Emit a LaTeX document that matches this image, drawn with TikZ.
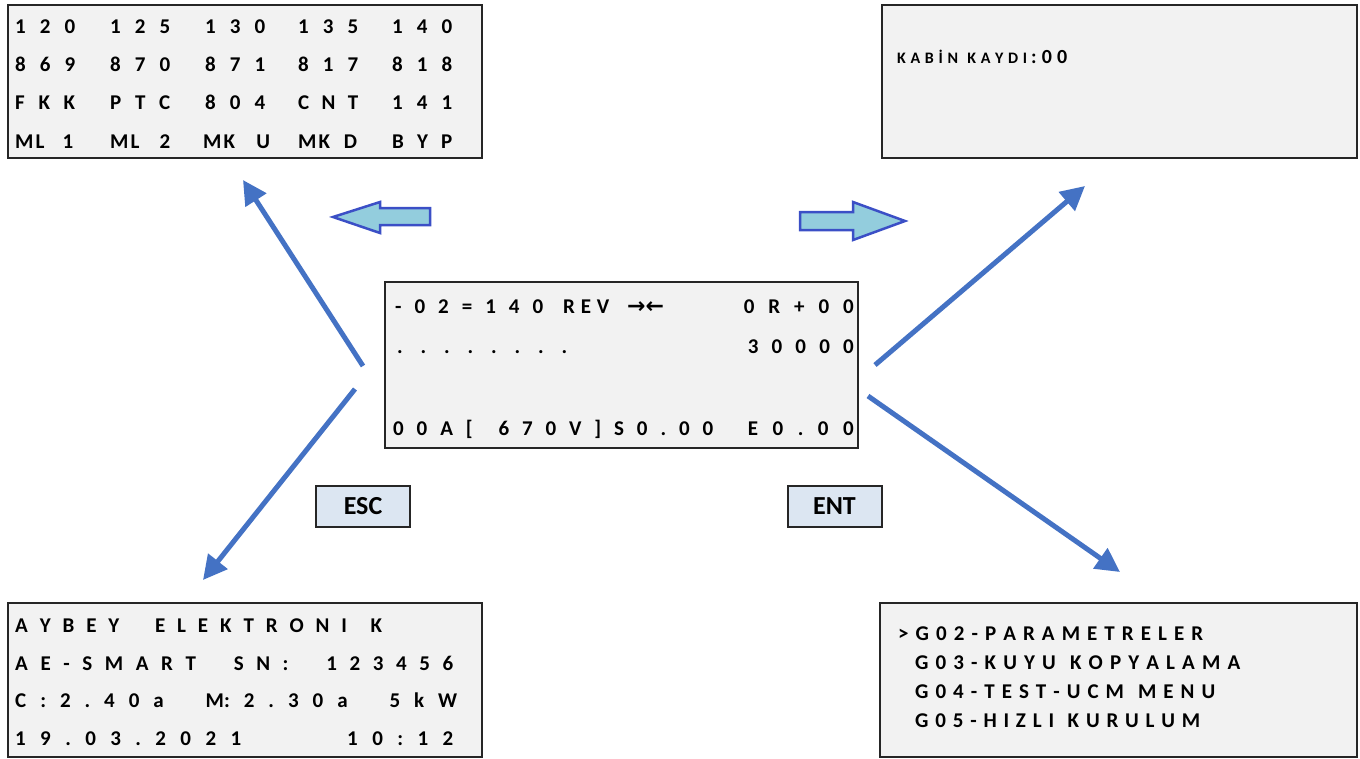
\documentclass[tikz,border=0pt]{standalone}
\usepackage{fontspec}
\setmainfont{Carlito}
\newfontfamily\arrfont{DejaVu Sans}
\usetikzlibrary{arrows.meta}
\definecolor{lcdbg}{HTML}{F2F2F2}
\definecolor{lcdline}{HTML}{262626}
\definecolor{keybg}{HTML}{DCE6F2}
\definecolor{flowblue}{HTML}{4472C4}
\definecolor{blkfill}{HTML}{93CDDD}
\definecolor{blkline}{HTML}{3B4FC6}
\newcommand\spread[2]{\makebox[#1pt][s]{#2}}
\frenchspacing
\begin{document}
\begin{tikzpicture}[x=1pt,y=-1pt,
  lcd/.style={draw=lcdline,line width=2.5pt,fill=lcdbg},
  txt/.style={inner sep=0pt,anchor=base west,text=black,font=\bfseries\fontsize{21}{24}\selectfont},
  txtr/.style={txt,anchor=base east},
  small/.style={txt,font=\bfseries\fontsize{16}{18}\selectfont},
  keybox/.style={draw=lcdline,line width=2pt,fill=keybg,inner sep=0pt,minimum width=94pt,minimum height=41pt,font=\bfseries\fontsize{26}{30}\selectfont},
  flow/.style={draw=flowblue,line width=5pt,-{Triangle[length=24pt,width=24pt]}},
  blk/.style={draw=blkline,line width=2.5pt,fill=blkfill,line join=miter}]
\useasboundingbox (0,0) rectangle (1360,758);

% boxes
\draw[lcd] (8,5) rectangle (482,158) node[pos=0.5,inner sep=0] (tl) {};
\draw[lcd] (882,5) rectangle (1357,158) node[pos=0.5,inner sep=0] (tr) {};
\draw[lcd] (385,282) rectangle (858,448) node[pos=0.5,inner sep=0] (ctr) {};
\draw[lcd] (8,603) rectangle (482,757) node[pos=0.5,inner sep=0] (bl) {};
\draw[lcd] (880,603) rectangle (1357,757) node[pos=0.5,inner sep=0] (br) {};

% top-left text
\node[txt] (t11) at (15,33) {\spread{60}{1 2 0}};
\node[txt] (t12) at (110,33) {\spread{60}{1 2 5}};
\node[txt] (t13) at (205,33) {\spread{60}{1 3 0}};
\node[txt] (t14) at (298,33) {\spread{60}{1 3 5}};
\node[txt] (t15) at (392,33) {\spread{60}{1 4 0}};
\node[txt] (t21) at (15,71) {\spread{60}{8 6 9}};
\node[txt] (t22) at (110,71) {\spread{60}{8 7 0}};
\node[txt] (t23) at (205,71) {\spread{60}{8 7 1}};
\node[txt] (t24) at (298,71) {\spread{60}{8 1 7}};
\node[txt] (t25) at (392,71) {\spread{60}{8 1 8}};
\node[txt] (t31) at (15,109) {\spread{60}{F K K}};
\node[txt] (t32) at (110,109) {\spread{60}{P T C}};
\node[txt] (t33) at (205,109) {\spread{60}{8 0 4}};
\node[txt] (t34) at (298,109) {\spread{60}{C N T}};
\node[txt] (t35) at (392,109) {\spread{60}{1 4 1}};
\node[txt] (t41) at (15,148) {\spread{58}{M\kern2pt L 1}};
\node[txt] (t42) at (110,148) {\spread{60}{M\kern2pt L 2}};
\node[txt] (t43) at (203,148) {\spread{67}{M\kern2pt K U}};
\node[txt] (t44) at (298,148) {\spread{59}{M\kern2pt K D}};
\node[txt] (t45) at (392,148) {\spread{60}{B Y P}};

% top-right text
\node[small] (k1) at (897,63) {\spread{130}{K A B İ N \ K A Y D I}};
\node[txt,font=\bfseries\fontsize{20}{22}\selectfont] (k2) at (1031,63) {\spread{36}{: 0 0}};

% center text
\node[txt] (c1a) at (395,313) {\spread{148}{- 0 2 = 1 4 0}};
\node[txt] (c1b) at (563,313) {\spread{46}{R E V}};
\node[txt,font=\arrfont\bfseries\fontsize{22}{24}\selectfont] (c1c) at (627,313) {→←};
\node[txtr] (c1d) at (854,313) {\spread{110}{0 R + 0 0}};
\node[txt] (c2a) at (397,353) {\spread{170}{. . . . . . . .}};
\node[txtr] (c2b) at (854,353) {\spread{106}{3 0 0 0 0}};
\node[txt] (c4a) at (393,435) {\spread{320}{0 0 A [ \ 6 7 0 V ] S 0 . 0 0}};
\node[txtr] (c4b) at (854,435) {\spread{106}{E 0 . 0 0}};

% bottom-left text
\node[txt] (b1) at (15,632) {\spread{367}{A Y B E Y \ \ E L E K T R O N I \ K}};
\node[txt] (b2) at (15,670) {\spread{438}{A E - S M A R T \ \ S N : \ \ 1 2 3 4 5 6}};
\node[txt] (b3) at (15,707) {\spread{442}{C : 2 . 4 0 a \ \ M: 2 . 3 0 a \ \ 5 k W}};
\node[txt] (b4a) at (15,745) {\spread{226}{1 9 . 0 3 . 2 0 2 1}};
\node[txt] (b4b) at (347,745) {\spread{106}{1 0 : 1 2}};

% bottom-right text
\node[txt] (r1) at (898,640) {\spread{305}{> G 0 2 - P A R A M E T R E L E R}};
\node[txt] (r2) at (915,669) {\spread{325}{G 0 3 - K U Y U \ K O P Y A L A M A}};
\node[txt] (r3) at (915,698) {\spread{300}{G 0 4 - T E S T - U C M \ M E N U}};
\node[txt] (r4) at (915,727) {\spread{285}{G 0 5 - H I Z L I \ K U R U L U M}};

% keys
\node[keybox] (esc) at (363,506.5) {ESC};
\node[keybox] (ent) at (834.5,506.5) {ENT};

% block arrows
\draw[blk] (333,217) -- (380,202) -- (380,208) -- (430,208) -- (430,225) -- (380,225) -- (380,233) -- cycle;
\draw[blk] (905,221) -- (853,202) -- (853,212) -- (800,212) -- (800,230) -- (853,230) -- (853,240) -- cycle;

% diagonal connectors
\coordinate (a1s) at (363,366); \coordinate (a1e) at (243,180);
\coordinate (a2s) at (355,389); \coordinate (a2e) at (203,580);
\coordinate (a3s) at (875,365); \coordinate (a3e) at (1085,186);
\coordinate (a4s) at (868,396); \coordinate (a4e) at (1120,572);
\draw[flow] (a1s) -- (a1e);
\draw[flow] (a2s) -- (a2e);
\draw[flow] (a3s) -- (a3e);
\draw[flow] (a4s) -- (a4e);
\end{tikzpicture}
\end{document}
